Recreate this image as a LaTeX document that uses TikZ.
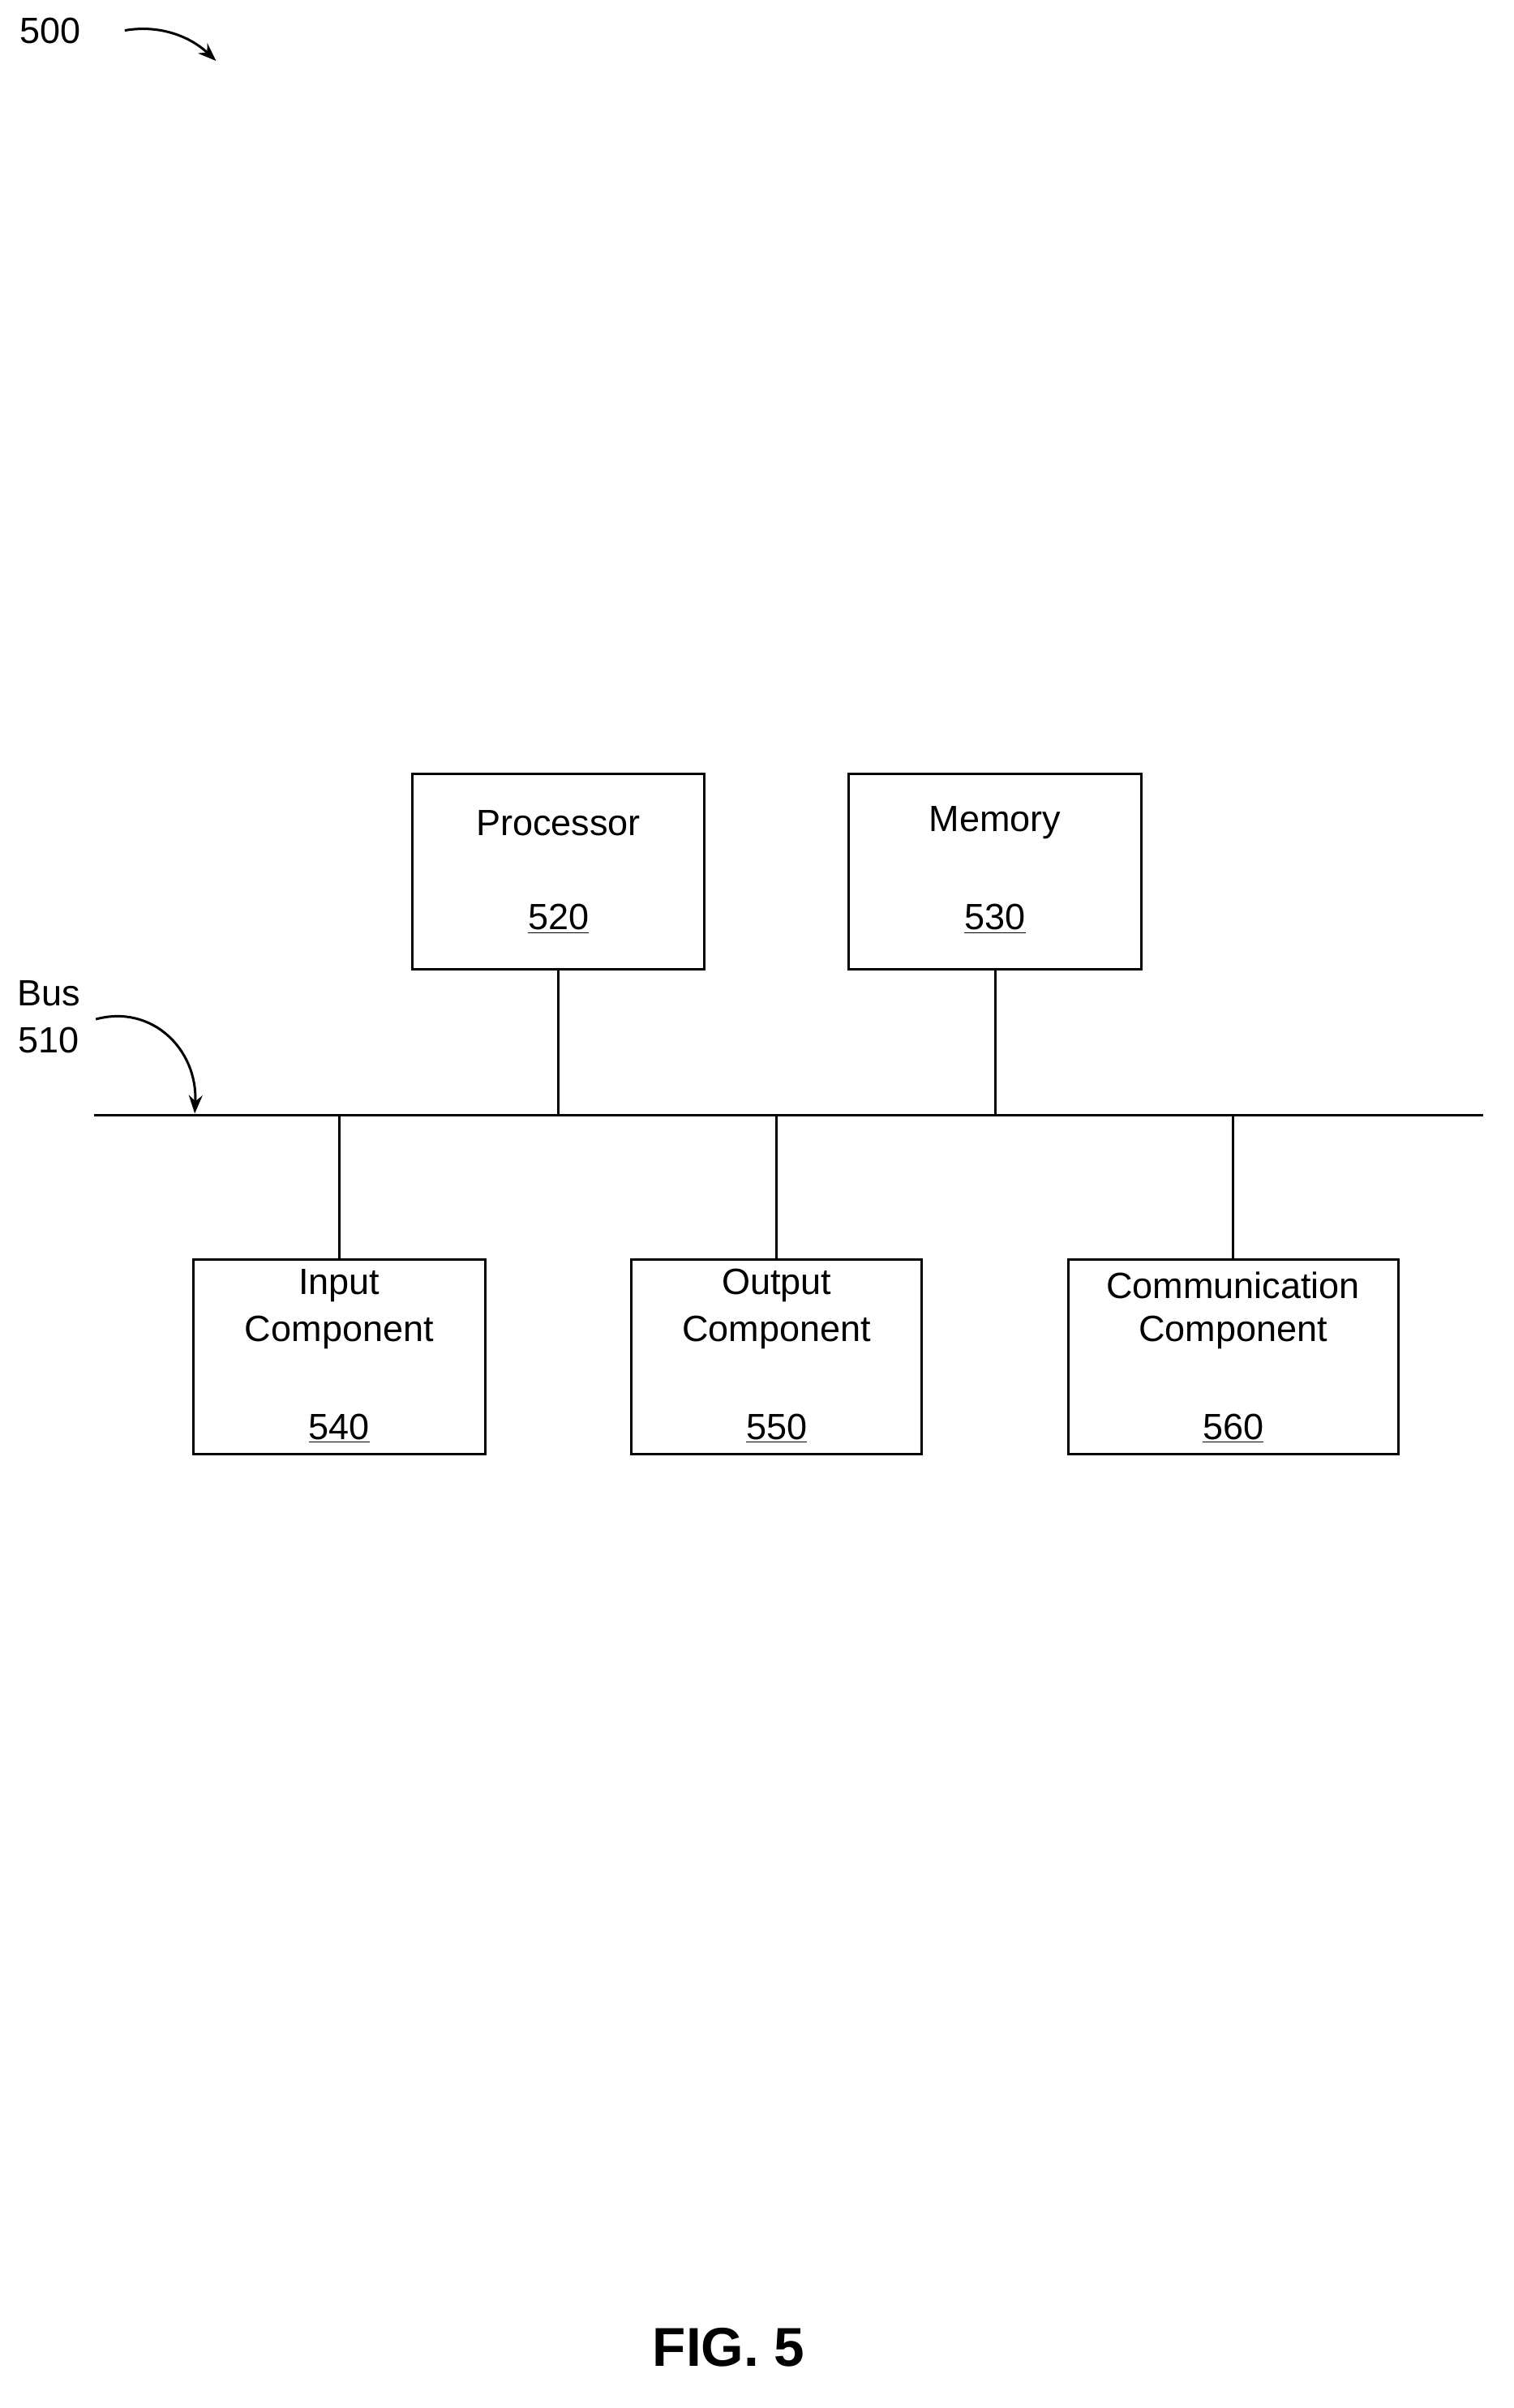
\documentclass[tikz,border=0pt]{standalone}
\usepackage{fontspec}
\setmainfont{Liberation Sans}
\usetikzlibrary{arrows.meta}
\begin{document}
\begin{tikzpicture}[x=1pt,y=-1pt,
  box/.style={draw,line width=1.6pt,inner sep=0pt},
  txt/.style={font=\fontsize{24}{28}\selectfont,inner sep=0pt,anchor=center},
  ln/.style={line width=1.6pt},
  arr/.style={line width=1.6pt,-{Stealth[length=12pt,width=9pt]}}]
\useasboundingbox (0,0) rectangle (995,1583);
% boxes
\draw[box] (271,509) rectangle (463,637) coordinate (pbr);
\node[box,minimum width=192pt,minimum height=128pt,draw=none] (proc) at (367,573) {};
\node[box,minimum width=192pt,minimum height=128pt] (mem) at (654,573) {};
\node[box,minimum width=192pt,minimum height=128pt] (inp) at (223,892) {};
\node[box,minimum width=191pt,minimum height=128pt] (out) at (510.5,892) {};
\node[box,minimum width=217pt,minimum height=128pt] (com) at (810.5,892) {};
% texts
\node[txt] (tp) at (367,541) {Processor};
\node[txt] (tp2) at (367,604) {\underline{520}};
\node[txt] (tm) at (654,541) {Memory};
\node[txt] (tm2) at (654,604) {\underline{530}};
\node[txt] (ti) at (223,845) {Input};
\node[txt] (ti1) at (223,876) {Component};
\node[txt] (ti2) at (223,939) {\underline{540}};
\node[txt] (to) at (510.5,845) {Output};
\node[txt] (to1) at (510.5,876) {Component};
\node[txt] (to2) at (510.5,939) {\underline{550}};
\node[txt] (tc) at (810.5,845) {Communication};
\node[txt] (tc1) at (810.5,876) {Component};
\node[txt] (tc2) at (810.5,939) {\underline{560}};
% bus
\coordinate (bl) at (62,733);
\coordinate (br) at (975,733);
\draw[ln] (bl) -- (br);
\draw[ln] (proc.south) -- (proc.south |- bl);
\draw[ln] (mem.south) -- (mem.south |- bl);
\draw[ln] (inp.north) -- (inp.north |- bl);
\draw[ln] (out.north) -- (out.north |- bl);
\draw[ln] (com.north) -- (com.north |- bl);
% labels
\node[txt] (bus) at (32,653) {Bus};
\node[txt] (b510) at (32,684) {510};
\coordinate (bt) at (128,732);
\draw[arr] (63,670) .. controls (100,660) and (130,690) .. (bt);
\node[txt] (l500) at (33,20) {500};
\coordinate (a5) at (142,40);
\draw[arr] (82,20) .. controls (105,16) and (125,24) .. (a5);
\node[txt,font=\fontsize{36}{40}\bfseries] (fig) at (479,1543) {FIG. 5};
\end{tikzpicture}
\end{document}
